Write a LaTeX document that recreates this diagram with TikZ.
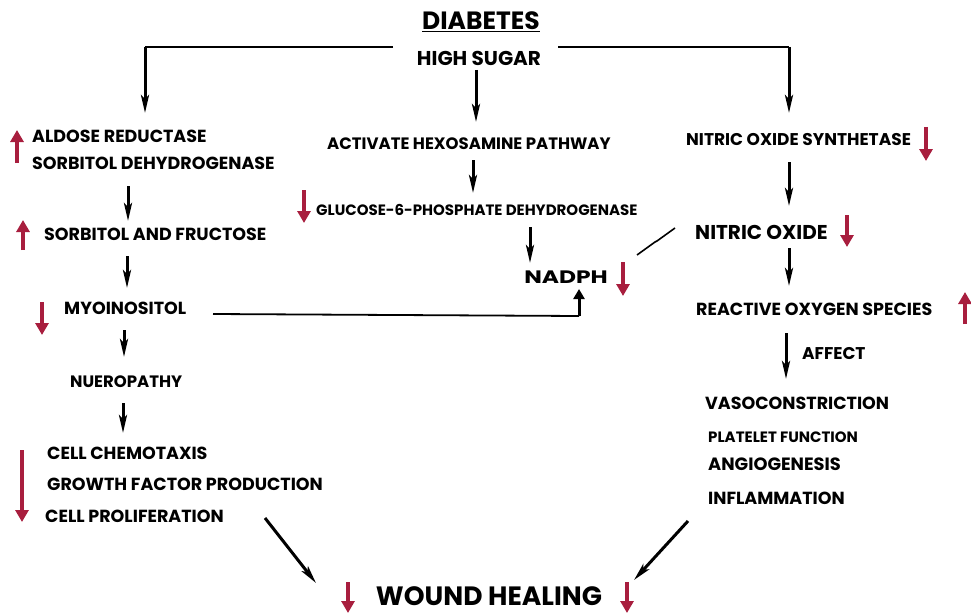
\documentclass[tikz,border=0pt]{standalone}
\usepackage{fontspec}
\setmainfont{Poppins}
\usetikzlibrary{arrows.meta}
\definecolor{crim}{RGB}{168,30,62}
\newcommand{\fs}[1]{\fontsize{#1}{#1}\selectfont\bfseries}
\tikzset{
  txt/.style={anchor=west,inner sep=0pt,font=\fs{17.5}},
  blk/.style={line width=3pt,-{Stealth[length=18pt,width=8pt,inset=4pt]}},
  redup/.style={crim,line width=4.5pt,-{Triangle[length=12pt,width=13pt]}},
  thin/.style={line width=1.8pt}
}
\begin{document}
\begin{tikzpicture}[x=1pt,y=-1pt]
\useasboundingbox (0,0) rectangle (971,615);
% title
\node[txt,anchor=center,font=\fs{25}] (diab) at (481,22) {\underline{DIABETES}};
\node[txt,anchor=center,font=\fs{20}] (hs) at (479,58) {HIGH SUGAR};
% left column
\node[txt] (ald) at (32,136) {ALDOSE REDUCTASE};
\node[txt] (sdh) at (32,163) {SORBITOL DEHYDROGENASE};
\node[txt] (sf) at (44,234) {SORBITOL AND FRUCTOSE};
\node[txt] (myo) at (64,308) {MYOINOSITOL};
\node[txt,font=\fs{16.5}] (neu) at (70,382) {NUEROPATHY};
\node[txt] (cc) at (47,453) {CELL CHEMOTAXIS};
\node[txt] (gf) at (47,484) {GROWTH FACTOR PRODUCTION};
\node[txt] (cp) at (45,516) {CELL PROLIFERATION};
% center column
\node[txt,font=\fs{16.5}] (hex) at (327,144) {ACTIVATE HEXOSAMINE PATHWAY};
\node[txt,font=\fs{15}] (g6p) at (316,210) {GLUCOSE-6-PHOSPHATE DEHYDROGENASE};
\node[txt,xscale=1.3,font=\fs{18}] (nadph) at (524,277) {NADPH};
% right column
\node[txt,font=\fs{17}] (nos) at (686,140) {NITRIC OXIDE SYNTHETASE};
\node[txt,font=\fs{20}] (no) at (695,232) {NITRIC OXIDE};
\node[txt] (ros) at (696,309) {REACTIVE OXYGEN SPECIES};
\node[txt,font=\fs{17}] (aff) at (802,354) {AFFECT};
\node[txt] (vaso) at (705,403) {VASOCONSTRICTION};
\node[txt,font=\fs{15}] (plat) at (708,437) {PLATELET FUNCTION};
\node[txt,font=\fs{17.8}] (ang) at (708,464) {ANGIOGENESIS};
\node[txt] (infl) at (708,498) {INFLAMMATION};
% bottom
\node[txt,anchor=center,font=\fs{26.5}] (wh) at (489,596) {WOUND HEALING};
% coordinates for connectors
\coordinate (lA) at (393,47);
\coordinate (lB) at (145,47);
\coordinate (lC) at (145,113);
\coordinate (rA) at (558,47);
\coordinate (rB) at (789,47);
\coordinate (rC) at (789,113);
% black connectors
\draw[thin] (lA) -- (lB);
\draw[blk] (lB) -- (lC);
\draw[thin] (rA) -- (rB);
\draw[blk] (rB) -- (rC);
\draw[blk] (476,70) -- (476,122);
\draw[blk] (128,186) -- (128,221);
\draw[blk] (127,256) -- (127,288);
\draw[blk] (124,330) -- (124,357);
\draw[blk] (123,403) -- (123,433);
\draw[blk] (473,160) -- (473,193);
\draw[blk] (530,227) -- (530,263);
\coordinate (myoEnd) at (579,316);
\draw[thin] (213,314) -- (myoEnd);
\draw[line width=3pt,-{Triangle[length=10pt,width=11pt]}] (myoEnd) -- (579,289);
\draw[line width=1.6pt] (637,255) -- (655,242) -- (657,241) -- (675,228);
\draw[blk] (789,162) -- (789,206);
\draw[blk] (789,248) -- (789,286);
\draw[blk] (786,333) -- (786,379);
\draw[blk] (265,518) -- (316,583);
\draw[blk] (688,521) -- (634,580);
% red arrows
\draw[redup] (17,163) -- (17,130);
\draw[redup] (23,250) -- (23,220);
\draw[redup] (42,302) -- (42,335);
\draw[redup] (22,450) -- (22,522);
\draw[redup] (304,190) -- (304,223);
\draw[redup] (623,262) -- (623,296);
\draw[redup] (926,127) -- (926,161);
\draw[redup] (847,215) -- (847,247);
\draw[redup] (965,324) -- (965,292);
\draw[redup] (348,582) -- (348,613);
\draw[redup] (627,582) -- (627,613);
\end{tikzpicture}
\end{document}
